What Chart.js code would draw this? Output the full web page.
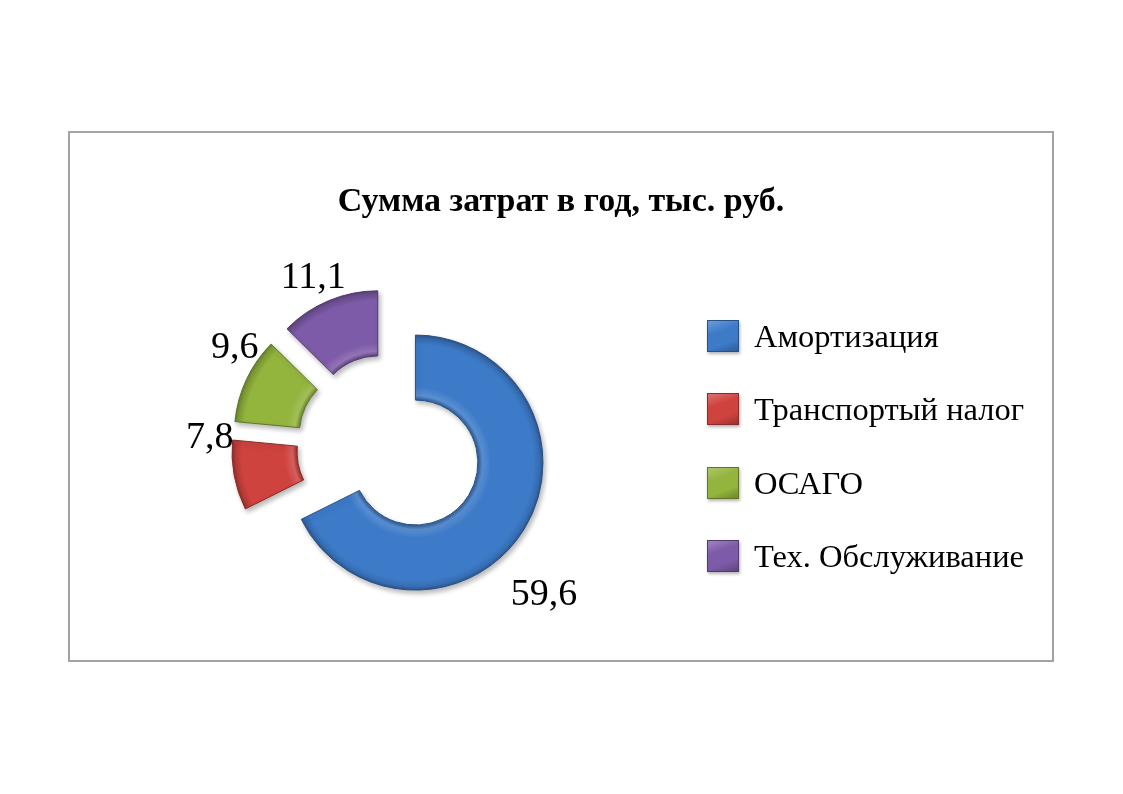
<!DOCTYPE html>
<html lang="ru">
<head>
<meta charset="utf-8">
<script src="https://cdn.jsdelivr.net/npm/chart.js@4.4.1/dist/chart.umd.min.js"></script>
<style>
  body { margin: 0; background: #fff; }
  #page { position: relative; width: 1123px; height: 794px; overflow: hidden; font-family: "Liberation Serif", serif; color: #000; }
  #frame { position: absolute; left: 68px; top: 131px; width: 986px; height: 531px; box-sizing: border-box; border: 2px solid #a3a3a3; }
  #chart { position: absolute; left: 0; top: 0; }
  #title { position: absolute; left: 68px; width: 986px; top: 180px; line-height: 40px; text-align: center; font-weight: bold; font-size: 34px; }
  .item { position: absolute; left: 707px; height: 32px; display: flex; align-items: center; font-size: 32.5px; line-height: 32px; white-space: nowrap; }
  .box { width: 32px; height: 32px; margin-right: 15px; box-sizing: border-box; box-shadow: 1px 2px 3px rgba(0,0,0,0.3); }
</style>
</head>
<body>
<div id="page">
  <div id="frame"></div>
  <canvas id="chart" width="1123" height="794"></canvas>
  <div id="title">Сумма затрат в год, тыс. руб.</div>
  <div id="legend"></div>
</div>
<script>
const categories = ["Амортизация", "Транспортый налог", "ОСАГО", "Тех. Обслуживание"];
const values = [59.6, 7.8, 9.6, 11.1];
const colors = ["#3d7bc9", "#cf433f", "#93b43d", "#7d5ba8"];

const EXPLODE = 30.5;
const RADIUS = 127.5;
const CUTOUT = 0.49;

function shade(hex, amt) {
    const n = parseInt(hex.slice(1), 16);
    const ch = [n >> 16, (n >> 8) & 255, n & 255].map(c => {
        const v = amt < 0 ? c * (1 + amt) : c + (255 - c) * amt;
        return Math.round(Math.max(0, Math.min(255, v)));
    });
    return `rgb(${ch[0]}, ${ch[1]}, ${ch[2]})`;
}

// bevel-ish fill, centered on the exploded slice
function sliceFill(c) {
    const area = c.chart.chartArea;
    const base = colors[c.dataIndex];
    if (!area) return base;
    const total = values.reduce((a, b) => a + b, 0);
    let before = 0;
    for (let k = 0; k < c.dataIndex; k++) before += values[k];
    const mid = -Math.PI / 2 + (before + values[c.dataIndex] / 2) / total * Math.PI * 2;
    const x = (area.left + area.right) / 2 + Math.cos(mid) * EXPLODE;
    const y = (area.top + area.bottom) / 2 + Math.sin(mid) * EXPLODE;
    const g = c.chart.ctx.createRadialGradient(x, y, RADIUS * CUTOUT, x, y, RADIUS);
    g.addColorStop(0, shade(base, -0.25));
    g.addColorStop(0.07, shade(base, 0.15));
    g.addColorStop(0.2, base);
    g.addColorStop(0.85, base);
    g.addColorStop(0.95, shade(base, -0.12));
    g.addColorStop(1, shade(base, -0.3));
    return g;
}

const explode = {
    id: "explode",
    afterDatasetUpdate(chart, args, opts) {
        args.meta.data.forEach(arc => {
            const mid = (arc.startAngle + arc.endAngle) / 2;
            arc.x += Math.cos(mid) * opts.distance;
            arc.y += Math.sin(mid) * opts.distance;
        });
    }
};

const shadow = {
    id: "shadow",
    beforeDatasetsDraw(chart) {
        const ctx = chart.ctx;
        ctx.save();
        ctx.shadowColor = "rgba(0, 0, 0, 0.28)";
        ctx.shadowBlur = 5;
        ctx.shadowOffsetX = 2;
        ctx.shadowOffsetY = 3;
    },
    afterDatasetsDraw(chart) {
        chart.ctx.restore();
    }
};

const sliceLabels = {
    id: "sliceLabels",
    afterDatasetsDraw(chart, args, opts) {
        const ctx = chart.ctx;
        const meta = chart.getDatasetMeta(0);
        ctx.save();
        ctx.font = opts.font;
        ctx.fillStyle = "#000";
        ctx.textAlign = "center";
        ctx.textBaseline = "middle";
        meta.data.forEach((arc, i) => {
            const a = (arc.startAngle + arc.endAngle) / 2 + opts.nudge[i] * Math.PI / 180;
            const d = arc.outerRadius + opts.gap[i];
            const text = values[i].toFixed(1).replace(".", ",");
            ctx.fillText(text, arc.x + Math.cos(a) * d, arc.y + Math.sin(a) * d);
        });
        ctx.restore();
    }
};

new Chart(document.getElementById("chart"), {
    type: "doughnut",
    data: {
        labels: categories,
        datasets: [{
            data: values,
            backgroundColor: sliceFill,
            borderColor: colors.map(c => shade(c, -0.35)),
            borderWidth: 1,
            radius: RADIUS,
            cutout: (CUTOUT * 100) + "%"
        }]
    },
    options: {
        responsive: false,
        animation: false,
        layout: { padding: { left: 0, right: 344, top: 99, bottom: 0 } },
        plugins: {
            legend: { display: false },
            title: { display: false },
            tooltip: { enabled: false },
            explode: { distance: EXPLODE },
            sliceLabels: { font: "38px 'Liberation Serif'", nudge: [14, 16, 9, -2], gap: [57, 23, 26, 27] }
        }
    },
    plugins: [explode, shadow, sliceLabels]
});

const legend = document.getElementById("legend");
categories.forEach((name, i) => {
    const item = document.createElement("div");
    item.className = "item";
    item.style.top = (320 + i * 73.3) + "px";
    const box = document.createElement("span");
    box.className = "box";
    box.style.background = `linear-gradient(160deg, ${shade(colors[i], 0.25)} 0%, ${colors[i]} 35%, ${colors[i]} 70%, ${shade(colors[i], -0.25)} 100%)`;
    box.style.border = `1px solid ${shade(colors[i], -0.35)}`;
    item.appendChild(box);
    item.appendChild(document.createTextNode(name));
    legend.appendChild(item);
});
</script>
</body>
</html>
